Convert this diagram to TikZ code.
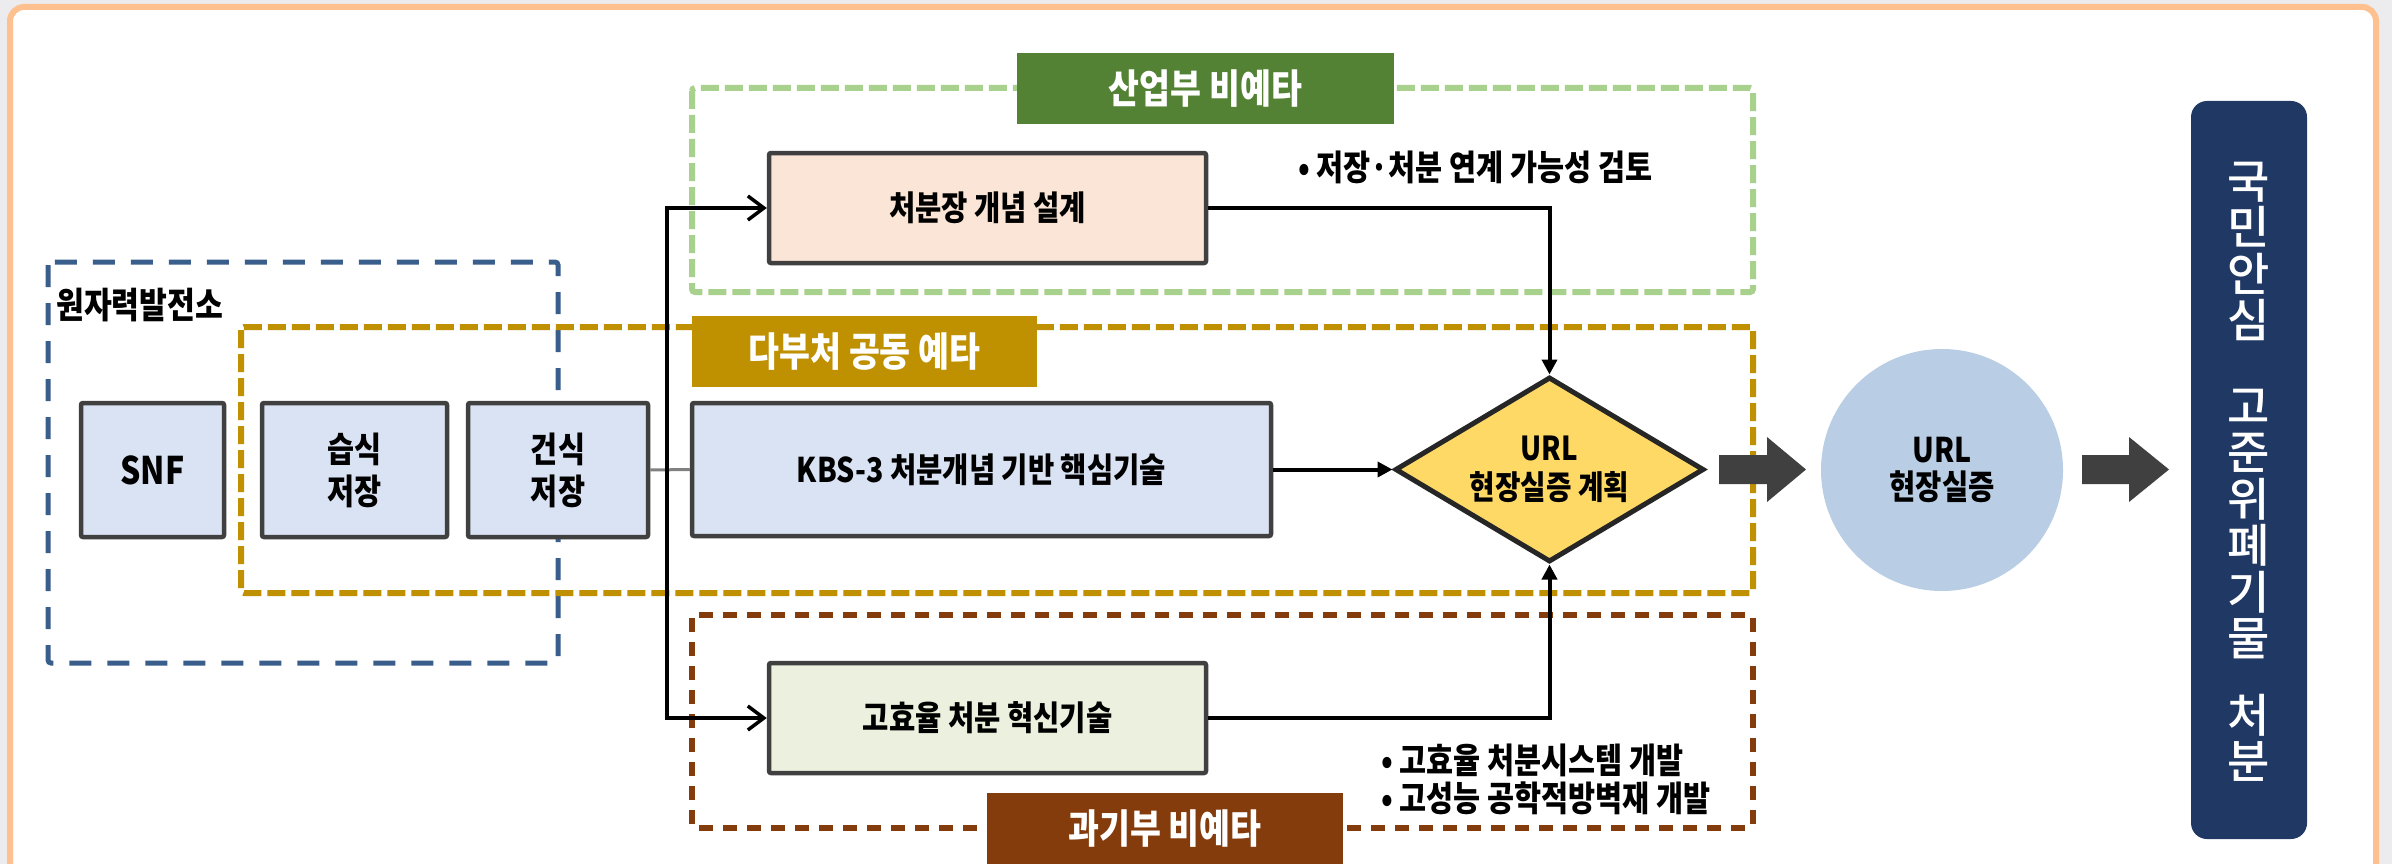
\documentclass[tikz,border=0pt]{standalone}
\usepackage{fontspec}
\newfontfamily\krb[FakeStretch=0.84]{Noto Sans CJK KR Black}
\newfontfamily\krm{Noto Sans CJK KR Medium}
\usetikzlibrary{shapes.geometric,arrows.meta}
\definecolor{bgray}{HTML}{ECECEE}
\definecolor{frameor}{HTML}{FFC08F}
\definecolor{bluedash}{HTML}{3A5E8C}
\definecolor{golddash}{HTML}{BF9000}
\definecolor{greendash}{HTML}{A9D18E}
\definecolor{greenlab}{HTML}{548235}
\definecolor{browndash}{HTML}{843C0C}
\definecolor{boxline}{HTML}{404040}
\definecolor{lblue}{HTML}{DAE3F3}
\definecolor{peach}{HTML}{FBE5D6}
\definecolor{lgreen}{HTML}{EBF1DE}
\definecolor{diafill}{HTML}{FFD966}
\definecolor{diaborder}{HTML}{262626}
\definecolor{ellfill}{HTML}{B9CDE5}
\definecolor{navy}{HTML}{203864}
\definecolor{arrgray}{HTML}{404040}
\definecolor{linegray}{HTML}{808080}
\begin{document}
\begin{tikzpicture}[x=1pt,y=-1pt,
  stepbox/.style={draw=boxline, line width=4.5pt, rounded corners=2pt, align=center, inner sep=0pt,
    font=\krb\fontsize{34}{40}\selectfont},
  tagbox/.style={text=white, inner sep=0pt, minimum height=71pt, font=\krb\fontsize{40}{40}\selectfont},
  notetext/.style={inner sep=0pt, align=left, font=\krb\fontsize{35}{38}\selectfont},
  conn/.style={line width=4pt, black},
  openarrow/.style={-{Straight Barb[length=16pt,width=24pt,line width=3.5pt]}},
  fillarrow/.style={-{Triangle[length=15pt,width=15pt]}},
  blockarrow/.style={fill=arrgray}
]
\useasboundingbox (0,0) rectangle (2392,864);
% background and frame
\fill[bgray] (0,0) rectangle (2392,864);
\draw[frameor, fill=white, line width=6pt, rounded corners=14pt] (10,7) rectangle (2376,920);

% dashed group frames
\draw[bluedash, line width=5pt, dash pattern=on 22pt off 16pt, rounded corners=3pt] (48,262) rectangle (558,663);
\draw[golddash, line width=6pt, dash pattern=on 18pt off 6pt, rounded corners=3pt] (241,327) rectangle (1753,593);
\draw[greendash, line width=6pt, dash pattern=on 18pt off 6pt, rounded corners=3pt] (692,88) rectangle (1753,292);
\draw[browndash, line width=6pt, dash pattern=on 14pt off 10pt, rounded corners=3pt] (692,615) rectangle (1753,828);

% group labels
\node[tagbox, fill=greenlab, minimum width=377pt] (tagmotie) at (1205.5,88.5) {산업부 비예타};
\node[tagbox, fill=golddash, minimum width=345pt] (tagmulti) at (864.5,351.5) {다부처 공동 예타};
\node[tagbox, fill=browndash, minimum width=356pt] (tagmsit) at (1165,828.5) {과기부 비예타};
\node[anchor=west, inner sep=0pt, font=\krb\fontsize{36}{40}\selectfont] (npp) at (56,305) {원자력발전소};

% boxes
\node[stepbox, fill=lblue, minimum width=143pt, minimum height=134pt, font=\krb\fontsize{38}{40}\selectfont] (snf) at (152.5,470) {SNF};
\node[stepbox, fill=lblue, minimum width=185pt, minimum height=134pt, font=\krb\fontsize{35}{42}\selectfont] (wet) at (354.5,470) {습식\\저장};
\node[stepbox, fill=lblue, minimum width=180pt, minimum height=134pt, font=\krb\fontsize{35}{42}\selectfont] (dry) at (558,470) {건식\\저장};
\node[stepbox, fill=lblue, minimum width=579pt, minimum height=133pt] (kbs) at (981.5,469.5) {KBS-3 처분개념 기반 핵심기술};
\node[stepbox, fill=peach, minimum width=437pt, minimum height=110pt] (design) at (987.5,208) {처분장 개념 설계};
\node[stepbox, fill=lgreen, minimum width=437pt, minimum height=110pt] (hieff) at (987.5,718) {고효율 처분 혁신기술};
\node[diamond, draw=diaborder, fill=diafill, line width=5pt, inner sep=0pt, aspect=1.67,
  minimum width=309pt, minimum height=185pt, align=center,
  font=\krb\fontsize{33}{39}\selectfont] (urlplan) at (1549.5,469.5) {URL\\현장실증 계획};
\node[circle, fill=ellfill, minimum size=242pt, inner sep=0pt, align=center,
  font=\krb\fontsize{34}{37}\selectfont] (urlsite) at (1942,470) {URL\\현장실증};
\node[fill=navy, rounded corners=16pt, minimum width=116pt, minimum height=738pt, inner sep=0pt] (goal) at (2249,470) {};
\node[text=white, align=center, inner sep=0pt, font=\krm\fontsize{46}{46.5}\selectfont] (goaltext) at (2249,472)
  {국\\민\\안\\심\\[39pt]고\\준\\위\\폐\\기\\물\\[30pt]처\\분};

% notes
\node[notetext, anchor=west] (note1) at (1298,167) {• 저장·처분 연계 가능성 검토};
\node[notetext, anchor=west] (note2) at (1381,779) {• 고효율 처분시스템 개발\\• 고성능 공학적방벽재 개발};

% connectors
\coordinate (split) at (667,469.5);
\draw[linegray, line width=3pt] (dry.east) -- (kbs.west);
\draw[conn, openarrow] (split) |- (design.west);
\draw[conn, openarrow] (split) |- (hieff.west);
\draw[conn, fillarrow] (design.east) -| (urlplan.north);
\draw[conn, fillarrow] (kbs.east) -- (urlplan.west);
\draw[conn, fillarrow] (hieff.east) -| (urlplan.south);

% block arrows
\fill[blockarrow] (1719,455) -- (1767,455) -- (1767,437) -- (1806,469.5) -- (1767,502) -- (1767,484) -- (1719,484) -- cycle;
\fill[blockarrow] (2082,455) -- (2129,455) -- (2129,437) -- (2169,469.5) -- (2129,502) -- (2129,484) -- (2082,484) -- cycle;
\end{tikzpicture}
\end{document}
